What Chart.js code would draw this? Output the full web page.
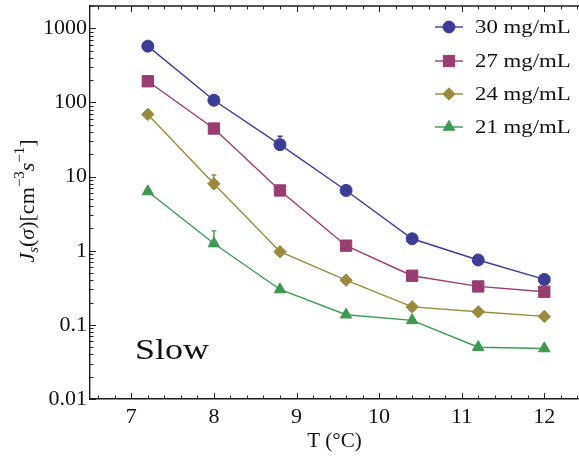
<!DOCTYPE html>
<html><head><meta charset="utf-8">
<script src="https://cdn.jsdelivr.net/npm/chart.js@4.4.0/dist/chart.umd.min.js"></script>
<style>html,body{margin:0;padding:0;background:#fff;}#wrap{width:579px;height:456px;position:relative;}</style>
</head><body><div id="wrap"><canvas id="c"></canvas></div>
<script>
// ---- data ----
const temps = [7.2, 8, 8.8, 9.6, 10.4, 11.2, 12];
const seriesLabels = ['30 mg/mL', '27 mg/mL', '24 mg/mL', '21 mg/mL'];
const j30 = [575, 107, 27, 6.5, 1.45, 0.75, 0.41];
const j27 = [193, 44.5, 6.5, 1.17, 0.46, 0.33, 0.28];
const j24 = [69, 8.0, 0.97, 0.40, 0.175, 0.15, 0.13];
const j21 = [6.3, 1.25, 0.30, 0.137, 0.115, 0.050, 0.048];
// error bars (upper / lower), null = none
const err30Hi = [null, null, 35, null, null, null, null];
const err30Lo = [null, null, 23, null, null, null, null];
const err27Hi = [null, null, null, null, null, null, null];
const err27Lo = [null, null, null, null, null, null, null];
const err24Hi = [null, 10.5, null, null, null, null, null];
const err24Lo = [null, 6.9, null, null, null, null, null];
const err21Hi = [null, 1.85, null, null, null, null, null];
const err21Lo = [null, 1.15, null, null, null, null, null];
const xTicks = [7, 8, 9, 10, 11, 12];
const xTickLabels = ['7', '8', '9', '10', '11', '12'];
const yTicks = [0.01, 0.1, 1, 10, 100, 1000];
const yTickLabels = ['0.01', '0.1', '1', '10', '100', '1000'];

const colors = ['#3D3D99', '#993D71', '#998B3D', '#3D9954'];
const styles = ['circle', 'rect', 'rectRot', 'triangle'];
const radii = [6, 8, 6.2, 6.6];
const values = [j30, j27, j24, j21];
const errHi = [err30Hi, err27Hi, err24Hi, err21Hi];
const errLo = [err30Lo, err27Lo, err24Lo, err21Lo];
const SERIF = '"Liberation Serif", "Times New Roman", serif';

const datasets = values.map((vals, k) => ({
  label: seriesLabels[k],
  data: temps.map((t, i) => ({x: t, y: vals[i]})),
  borderColor: colors[k],
  backgroundColor: colors[k],
  pointBackgroundColor: colors[k],
  pointBorderColor: colors[k],
  borderWidth: 1.4,
  pointStyle: styles[k],
  pointRadius: radii[k],
  pointBorderWidth: 1,
  tension: 0
}));

const errorBars = {
  id: 'errorBars',
  beforeDatasetsDraw(chart) {
    const {ctx, scales: {x, y}} = chart;
    ctx.save();
    values.forEach((vals, k) => {
      temps.forEach((t, i) => {
        const hi = errHi[k][i], lo = errLo[k][i];
        if (hi == null) return;
        const px = x.getPixelForValue(t);
        const pt = y.getPixelForValue(hi), pb = y.getPixelForValue(lo);
        ctx.strokeStyle = colors[k];
        ctx.lineWidth = 1.4;
        ctx.beginPath();
        ctx.moveTo(px, pt); ctx.lineTo(px, pb);
        ctx.moveTo(px - 2.5, pt); ctx.lineTo(px + 2.5, pt);
        ctx.moveTo(px - 2.5, pb); ctx.lineTo(px + 2.5, pb);
        ctx.stroke();
      });
    });
    ctx.restore();
  }
};

function stretchText(ctx, text, x, y, font, sx, align) {
  ctx.save();
  ctx.font = font;
  ctx.translate(x, y);
  ctx.scale(sx, 1);
  ctx.textAlign = align || 'left';
  ctx.fillText(text, 0, 0);
  ctx.restore();
}

const decor = {
  id: 'decor',
  afterDraw(chart) {
    const {ctx, chartArea: a, scales: {x, y}} = chart;
    ctx.save();
    // top frame line
    ctx.strokeStyle = '#1a1a1a';
    ctx.lineWidth = 1.4;
    ctx.beginPath();
    ctx.moveTo(a.left, a.top); ctx.lineTo(a.right, a.top);
    ctx.stroke();
    // inward ticks
    ctx.lineWidth = 1;
    ctx.strokeStyle = '#222';
    ctx.beginPath();
    for (let v = 6.6; v < x.max; v += 0.2) {
      const vv = Math.round(v * 10) / 10;
      const major = Math.abs(vv - Math.round(vv)) < 1e-6;
      const len = major ? 6 : 3.5;
      const px = Math.round(x.getPixelForValue(vv)) + 0.5;
      ctx.moveTo(px, a.bottom); ctx.lineTo(px, a.bottom - len);
      ctx.moveTo(px, a.top); ctx.lineTo(px, a.top + len);
    }
    for (let e = -2; e <= 3; e++) {
      for (let m = 1; m <= 9; m++) {
        const v = m * Math.pow(10, e);
        if (v < y.min || v > y.max) continue;
        const len = m === 1 ? 6 : 3.5;
        const py = Math.round(y.getPixelForValue(v)) + 0.5;
        ctx.moveTo(a.left, py); ctx.lineTo(a.left + len, py);
      }
    }
    ctx.stroke();

    // legend
    const lx0 = 435, lx1 = 463, rows = [27, 61, 94, 127];
    datasets.forEach((ds, k) => {
      const ry = rows[k];
      ctx.strokeStyle = colors[k];
      ctx.fillStyle = colors[k];
      ctx.lineWidth = 1.4;
      ctx.beginPath();
      ctx.moveTo(lx0, ry); ctx.lineTo(lx1, ry);
      ctx.stroke();
      ctx.lineWidth = 1;
      Chart.helpers.drawPoint(ctx, {pointStyle: styles[k], radius: radii[k], rotation: 0, borderWidth: 1}, (lx0 + lx1) / 2, ry);
      ctx.fillStyle = '#111';
      ctx.textBaseline = 'middle';
      stretchText(ctx, ds.label, 475, ry + 1, '19px ' + SERIF, 1.2);
    });

    // "Slow" annotation
    ctx.fillStyle = '#111';
    ctx.textBaseline = 'alphabetic';
    stretchText(ctx, 'Slow', 135, 359, '30px ' + SERIF, 1.2);

    // y axis title (rich text, rotated)
    const parts = [
      {t: 'J', it: true, s: 22, dy: 0},
      {t: 's', it: true, s: 15, dy: 4},
      {t: '(', it: false, s: 22, dy: 0},
      {t: 'σ', it: true, s: 22, dy: 0},
      {t: ')[cm', it: false, s: 22, dy: 0},
      {t: '−3', it: false, s: 15, dy: -10},
      {t: 's', it: true, s: 22, dy: 0},
      {t: '−1', it: false, s: 15, dy: -10},
      {t: ']', it: false, s: 22, dy: 0}
    ];
    const fontOf = p => (p.it ? 'italic ' : '') + p.s + 'px ' + SERIF;
    let total = 0;
    parts.forEach(p => { ctx.font = fontOf(p); p.w = ctx.measureText(p.t).width; total += p.w; });
    ctx.translate(34, 201);
    ctx.rotate(-Math.PI / 2);
    ctx.textAlign = 'left';
    ctx.textBaseline = 'alphabetic';
    let cx = -total / 2;
    parts.forEach(p => { ctx.font = fontOf(p); ctx.fillText(p.t, cx, p.dy); cx += p.w; });
    ctx.restore();
  }
};

Chart.defaults.font.family = SERIF;
new Chart(document.getElementById('c'), {
  type: 'line',
  data: {datasets},
  options: {
    responsive: true,
    maintainAspectRatio: false,
    animation: false,
    devicePixelRatio: 1,
    layout: {autoPadding: false, padding: {top: 6, left: 0, right: 0, bottom: 0}},
    plugins: {legend: {display: false}, tooltip: {enabled: false}},
    scales: {
      x: {
        type: 'linear', min: 6.5, max: 12.42,
        afterBuildTicks: s => { s.ticks = xTicks.map(v => ({value: v})); },
        afterFit: s => { s.height = 57; s.paddingLeft = 0; s.paddingRight = 0; },
        grid: {display: false, drawTicks: false},
        border: {display: true, color: '#1a1a1a', width: 1.4},
        ticks: {font: {family: SERIF, size: 22}, color: '#111', padding: 5, maxRotation: 0, autoSkip: false,
                callback: (v, i) => xTickLabels[i]},
        title: {display: true, text: 'T (°C)', font: {family: SERIF, size: 21}, color: '#111', padding: {top: 0, bottom: 2}}
      },
      y: {
        type: 'logarithmic', min: 0.01, max: 2000,
        afterBuildTicks: s => { s.ticks = yTicks.map(v => ({value: v, major: true})); },
        afterFit: s => { s.width = 90; s.paddingTop = 0; s.paddingBottom = 0; },
        grid: {display: false, drawTicks: false},
        border: {display: true, color: '#1a1a1a', width: 1.4},
        ticks: {font: {family: SERIF, size: 22}, color: '#111', padding: 3, autoSkip: false,
                callback: (v, i) => yTickLabels[i]}
      }
    }
  },
  plugins: [errorBars, decor]
});
</script></body></html>
